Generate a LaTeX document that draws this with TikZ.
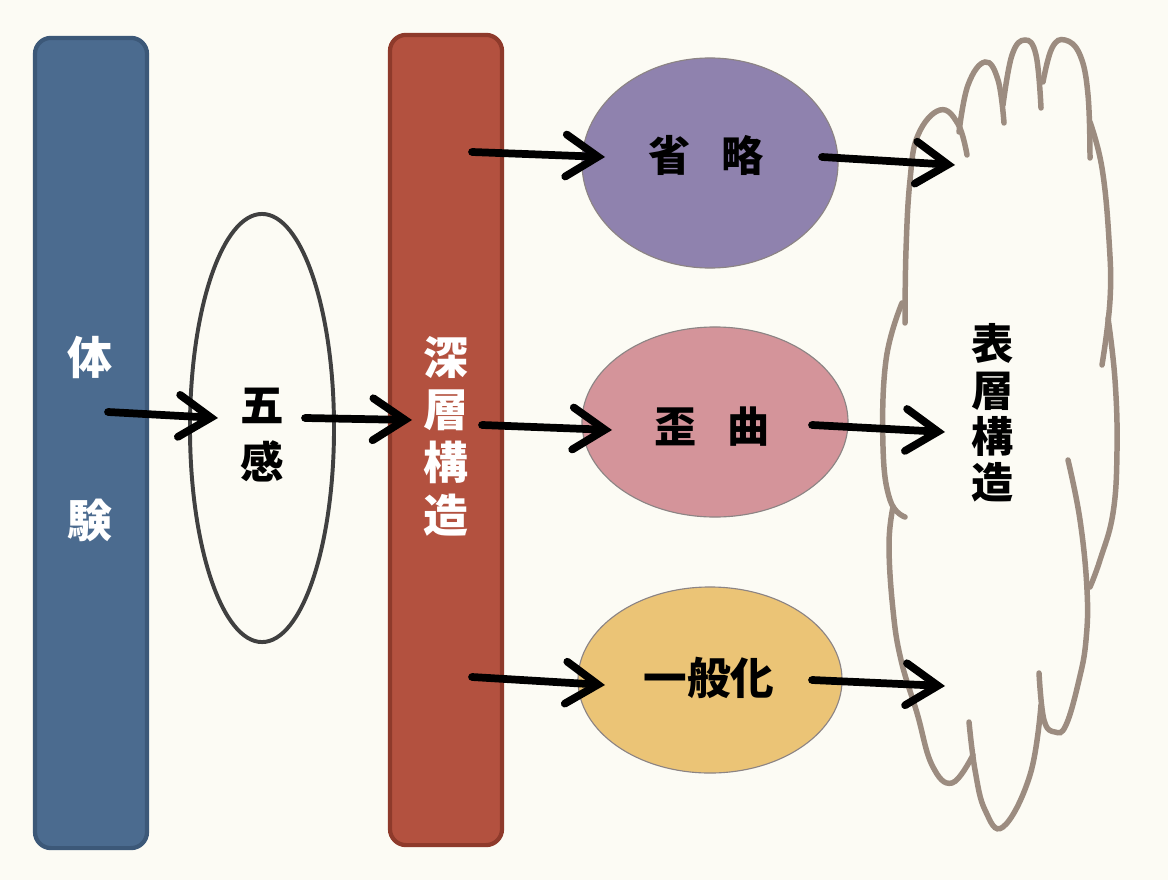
\documentclass[tikz,border=0pt]{standalone}
\usepackage{fontspec}
\newfontfamily\jp{Noto Sans CJK JP}
\usetikzlibrary{shapes.geometric,arrows.meta}
\definecolor{cream}{HTML}{FCFBF4}
\definecolor{barblue}{HTML}{4B6B8F}
\definecolor{barblueline}{HTML}{3C5878}
\definecolor{barred}{HTML}{B3513F}
\definecolor{barredline}{HTML}{8E3A2B}
\definecolor{ovpurple}{HTML}{8F82AE}
\definecolor{ovpink}{HTML}{D4949A}
\definecolor{ovyellow}{HTML}{EBC476}
\definecolor{ovline}{HTML}{8C8484}
\definecolor{cloudline}{HTML}{9C8C80}
\begin{document}
\begin{tikzpicture}[x=0.025cm,y=-0.025cm,
    bar/.style={draw, line width=3pt, rounded corners=0.4cm, minimum width=2.8cm, minimum height=20.25cm},
    oval/.style={ellipse, draw=ovline, line width=0.8pt, inner sep=0pt},
    arr/.style={line width=5.5pt, line cap=round, -{Straight Barb[length=0.8cm,width=1.05cm,line cap=round]}},
    jtext/.style={font=\jp\bfseries\fontsize{30}{34}\selectfont, align=center, inner sep=0pt}]
        \fill[cream] (0,0) rectangle (1168,880);
        % left and middle bars
        \node[bar, fill=barblue, draw=barblueline] (taiken) at (91,443) {};
        \node[bar, fill=barred, draw=barredline] (shinso) at (446,440) {};
        \node[jtext, white, font=\jp\bfseries\fontsize{32}{34}\selectfont] (tai) at (90,357) {体};
        \node[jtext, white, font=\jp\bfseries\fontsize{32}{34}\selectfont] (ken) at (90,520) {験};
        \node[jtext, white, font=\jp\bfseries\fontsize{32}{37.5}\selectfont] (shinsotxt) at (446,436) {深\\層\\構\\造};
        % five senses
        \node[oval, draw=black!75, line width=2.8pt, minimum width=3.6cm, minimum height=10.7cm] (gokan) at (262,428) {};
        \node[jtext, font=\jp\fontsize{31}{34}\selectfont] (gokantxt) at (262,435) {\textbf{五}\\[0.25cm]\textbf{感}};
        % the three filters
        \node[oval, fill=ovpurple, minimum width=6.4cm, minimum height=5.25cm] (shoryaku) at (710,163) {};
        \node[oval, fill=ovpink, minimum width=6.65cm, minimum height=4.75cm] (waikyoku) at (715,422) {};
        \node[oval, fill=ovyellow, minimum width=6.6cm, minimum height=4.65cm] (ippanka) at (710,680) {};
        \node[jtext] (shoryakutxt) at (706,155) {省\hspace{0.75cm}略};
        \node[jtext] (waikyokutxt) at (712,427) {歪\hspace{0.75cm}曲};
        \node[jtext, font=\jp\bfseries\fontsize{31}{34}\selectfont] (ippankatxt) at (709,678) {一般化};
        % cloud
        \begin{scope}[draw=cloudline, line width=3.9pt, line cap=round]
        \draw plot[smooth, tension=0.7] coordinates {(905,323) (906,250) (910,180) (918,135) (940,110) (958,124) (967,155)};
        \draw plot[smooth, tension=0.7] coordinates {(959,132) (968,85) (985,62) (998,80) (1004,123)};
        \draw plot[smooth, tension=0.7] coordinates {(1003,105) (1012,55) (1025,40) (1036,55) (1041,108)};
        \draw plot[smooth, tension=0.7] coordinates {(1043,82) (1052,48) (1065,40) (1080,55) (1088,95) (1090,158)};
        \draw plot[smooth, tension=0.7] coordinates {(1090,122) (1102,168) (1109,240) (1110,300) (1102,365)};
        \draw plot[smooth, tension=0.7] coordinates {(1108,318) (1115,380) (1117,450) (1113,513) (1100,560) (1090,587)};
        \draw plot[smooth, tension=0.7] coordinates {(1068,460) (1080,520) (1087,590) (1086,640) (1079,680) (1066,725) (1055,732) (1044,720) (1039,673)};
        \draw plot[smooth, tension=0.7] coordinates {(1041,705) (1030,775) (1003,827) (985,810) (975,770) (969,722)};
        \draw plot[smooth, tension=0.7] coordinates {(973,755) (952,783) (932,765) (917,713) (901,660) (893,610) (889,545) (893,507)};
        \draw plot[smooth, tension=0.7] coordinates {(902,303) (886,360) (883,447) (890,500) (905,517)};
        \end{scope}
        \coordinate (hyoso) at (1000,430);
        \node[jtext, font=\jp\bfseries\fontsize{30}{33}\selectfont] (hyosotxt) at (993,413) {表\\層\\構\\造};
        % arrows
        \draw[arr] ([shift={(17,-31)}]taiken.center) -- ([shift={(-44,-10)}]gokan.center);
        \draw[arr] ([shift={(43,-10)}]gokan.center) -- ([shift={(-34,-20)}]shinso.center);
        \draw[arr] ([shift={(26,-288)}]shinso.center) -- ([shift={(-105,-6)}]shoryaku.center);
        \draw[arr] ([shift={(36,-15)}]shinso.center) -- ([shift={(-103,8)}]waikyoku.center);
        \draw[arr] ([shift={(26,237)}]shinso.center) -- ([shift={(-105,5)}]ippanka.center);
        \draw[arr] ([shift={(112,-6)}]shoryaku.center) -- ([shift={(-45,-265)}]hyoso);
        \draw[arr] ([shift={(97,3)}]waikyoku.center) -- ([shift={(-55,2)}]hyoso);
        \draw[arr] ([shift={(102,0)}]ippanka.center) -- ([shift={(-55,256)}]hyoso);
\end{tikzpicture}
\end{document}
